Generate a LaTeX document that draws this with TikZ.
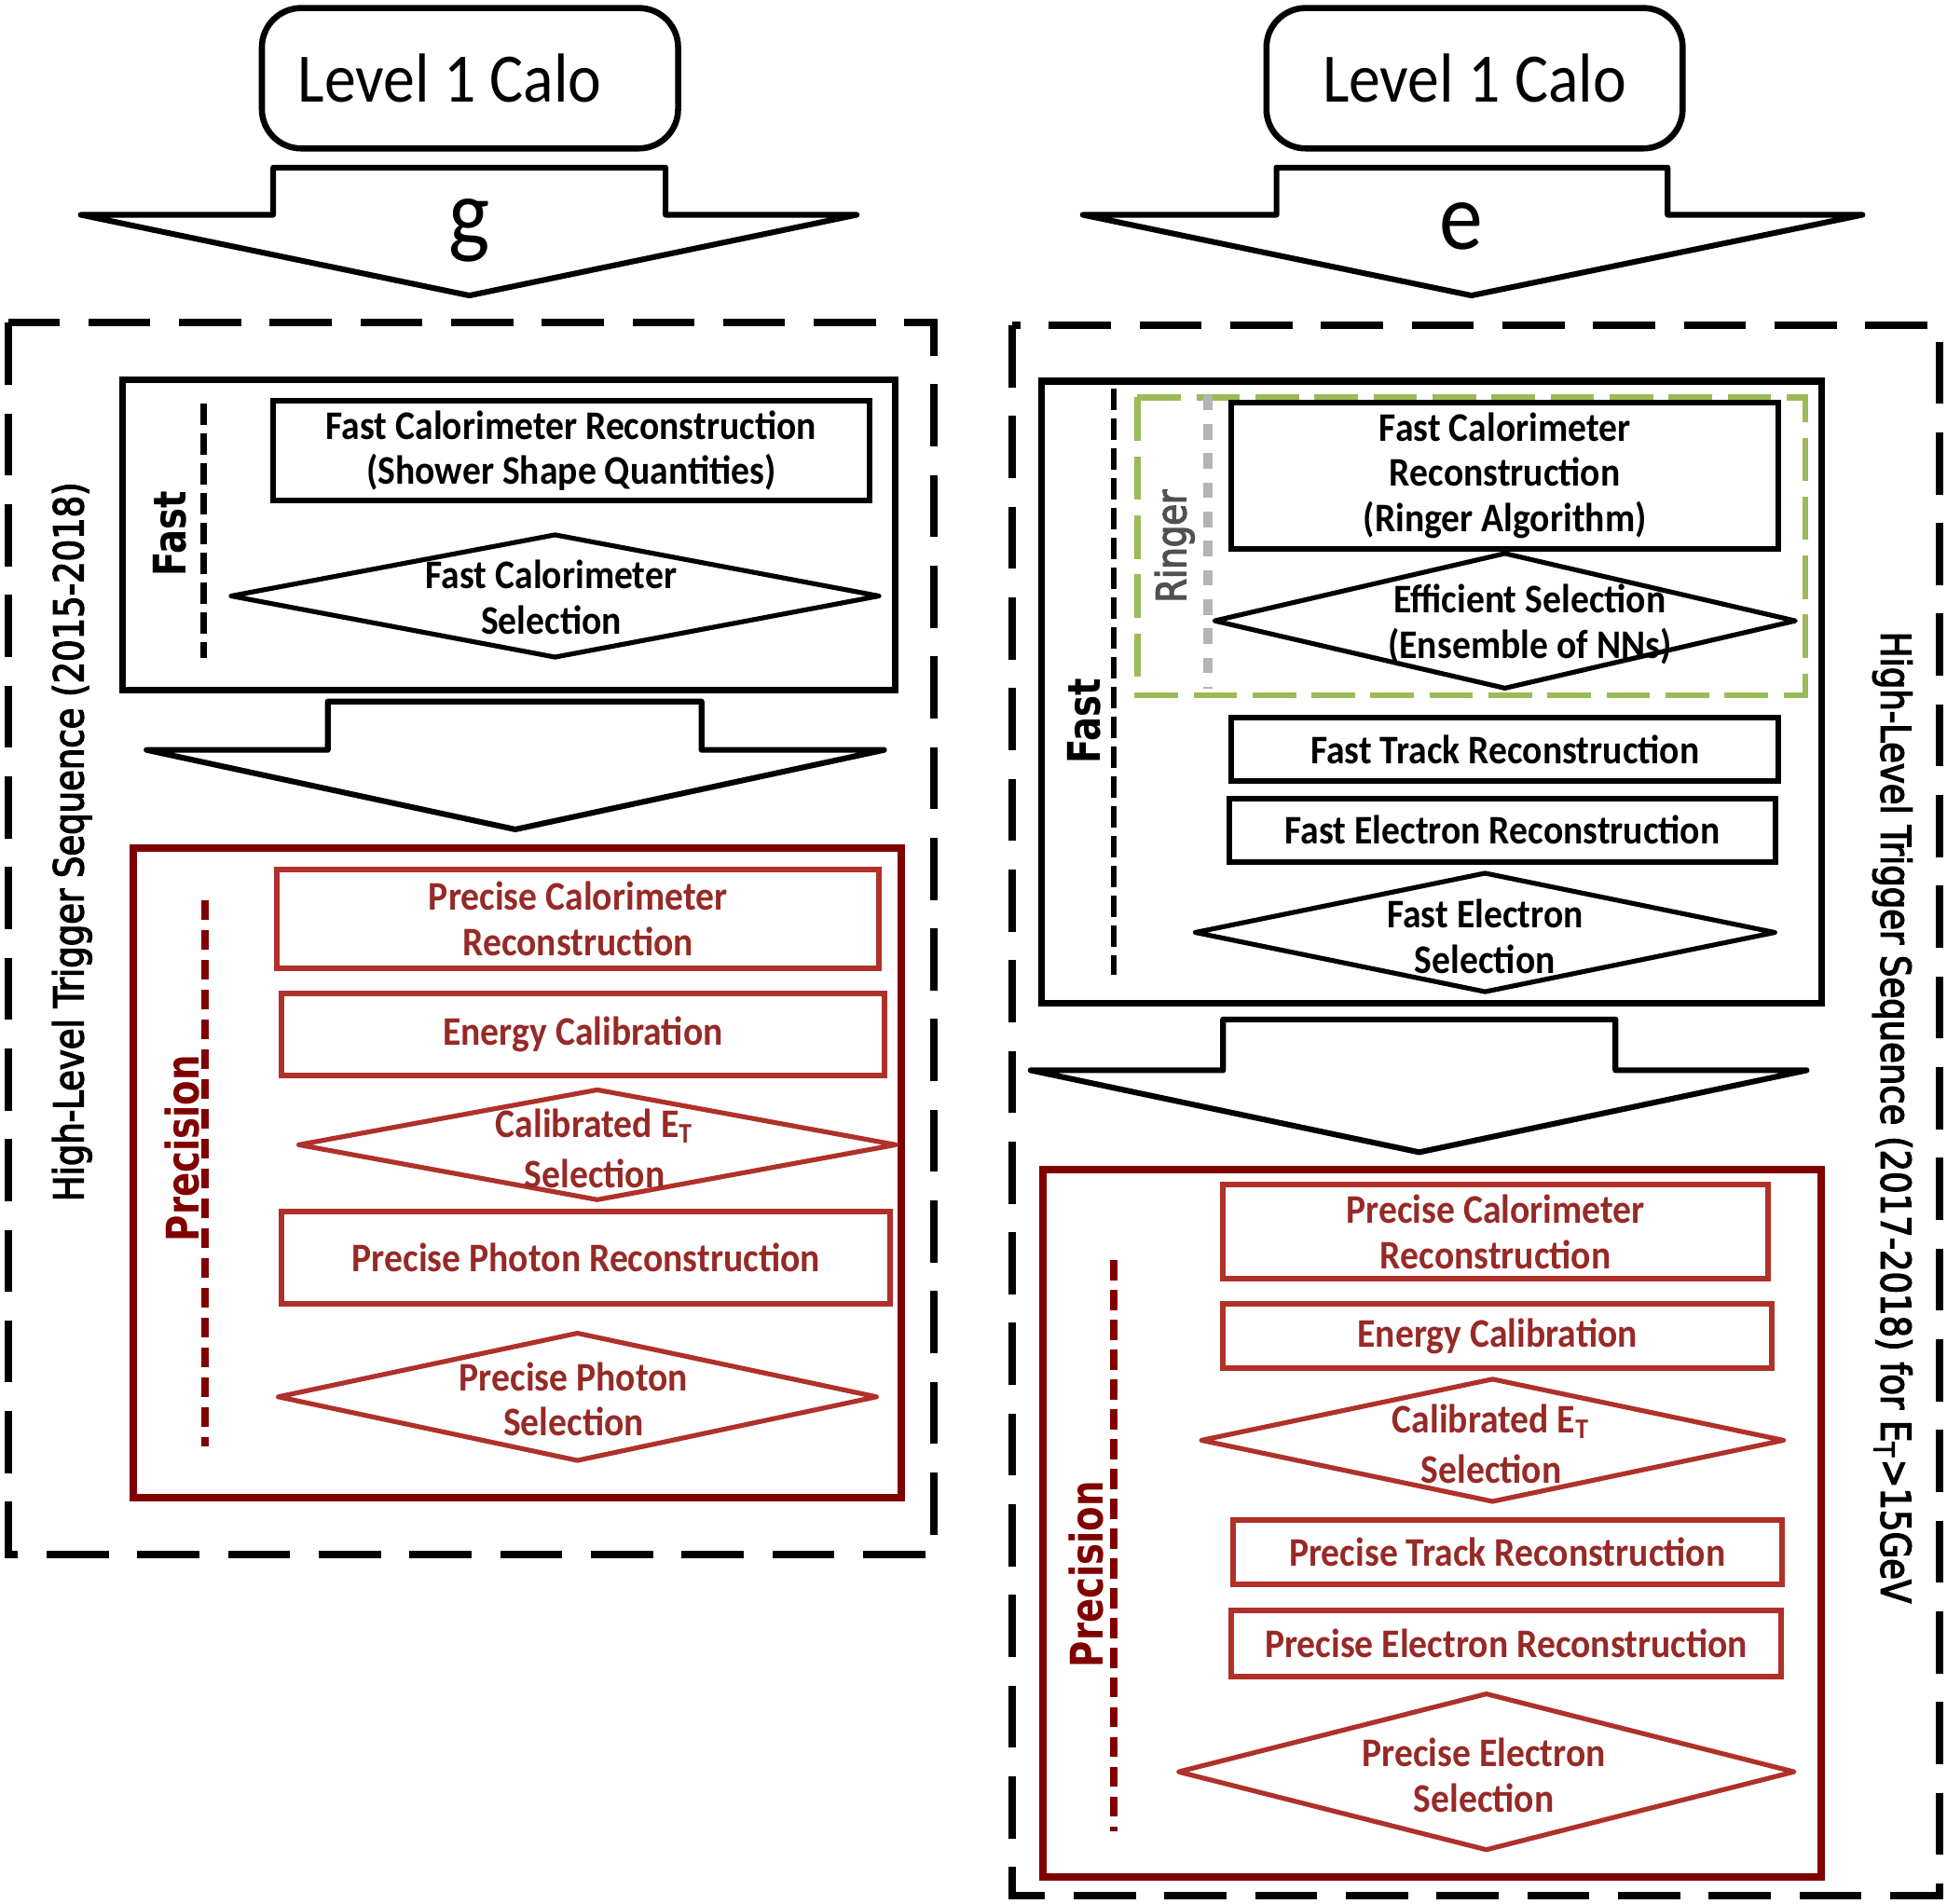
\documentclass[tikz,border=0pt]{standalone}
\usepackage{fontspec}
\setmainfont[FakeStretch=0.91]{Carlito}
\newfontfamily\sidefont[FakeStretch=0.84, FakeBold=3]{DejaVu Sans}
\newfontfamily\tagfont[FakeStretch=0.8]{DejaVu Sans}
\usetikzlibrary{shapes.geometric}
\definecolor{maroon}{RGB}{128,0,0}
\definecolor{brick}{RGB}{176,48,42}
\definecolor{bricktext}{RGB}{150,42,38}
\definecolor{ringgreen}{RGB}{155,187,89}
\definecolor{ringgray}{RGB}{180,180,180}
\definecolor{ringtext}{RGB}{80,80,80}
\begin{document}
\begin{tikzpicture}[x=0.01cm, y=-0.01cm,
  calo/.style = {draw, line width=1.4pt, rounded corners=9pt, minimum width=3.35cm, minimum height=1.13cm, inner sep=0pt, font=\fontsize{15.9}{19}\selectfont},
  rec/.style = {draw, line width=1.3pt, inner sep=0pt, align=center, font=\fontsize{9.3}{10.4}\selectfont\bfseries},
  redrec/.style = {rec, draw=brick, text=bricktext},
  dec/.style = {diamond, draw, line width=1.1pt, line join=round, inner sep=0pt},
  reddec/.style = {dec, draw=brick},
  dectext/.style = {align=center, inner sep=0pt, font=\fontsize{9.3}{10.4}\selectfont\bfseries},
  reddectext/.style = {dectext, text=bricktext},
  blk/.style = {draw, line width=1.3pt, line join=round},
  letter/.style = {inner sep=0pt, font=\fontsize{22}{26}\selectfont},
  seqbox/.style = {line width=1.7pt, dash pattern=on 0.5cm off 0.23cm},
  fastbox/.style = {line width=1.5pt},
  precbox/.style = {draw=maroon, line width=1.7pt},
  fastdash/.style = {line width=1.4pt, dash pattern=on 0.17cm off 0.07cm},
  precdash/.style = {maroon, line width=1.8pt, dash pattern=on 0.16cm off 0.08cm},
  sidelab/.style = {inner sep=0pt, font=\sidefont\fontsize{9.4}{11}\selectfont},
  taglab/.style = {inner sep=0pt, font=\tagfont\bfseries\fontsize{10.3}{12}\selectfont}]
\useasboundingbox (0,0) rectangle (1568,1533);

% photon chain (left)
\node[calo] (lcalo) at (378.5,63) {\makebox[2.77cm][l]{Level 1 Calo}};
\draw[blk] (220,173) -- (220,135) -- (536,135) -- (536,173) -- (690,173) -- (378,238) -- (65,173) -- cycle;
\node[letter] (g) at (378,186) {g};
\draw[seqbox] (7,260) rectangle (752,1252);
\node[sidelab, rotate=90] (lseq) at (58,678) {High-Level Trigger Sequence (2015-2018)};

\draw[fastbox] (99,306) rectangle (721,556);
\node[taglab, rotate=90] (lfast) at (137,430) {Fast};
\draw[fastdash] (164,325) -- (164,530);
\node[rec, minimum width=4.8cm, minimum height=0.8cm] (lfcr) at (460,363) {Fast Calorimeter Reconstruction\\(Shower Shape Quantities)};
\node[dec, minimum width=5.23cm, minimum height=1cm] (lfcs) at (447,480) {};
\node[dectext] (lfcst) at (444,481) {Fast Calorimeter\\Selection};

\draw[blk] (264,604) -- (264,565) -- (565,565) -- (565,604) -- (712,604) -- (415,668) -- (118,604) -- cycle;

\draw[precbox] (107,683) rectangle (726,1206);
\node[taglab, rotate=90, text=maroon] (lprec) at (147,925) {Precision};
\draw[precdash] (165,725) -- (165,1165);
\node[redrec, minimum width=4.85cm, minimum height=0.8cm] (lpcr) at (465.5,740) {Precise Calorimeter\\Reconstruction};
\node[redrec, minimum width=4.85cm, minimum height=0.66cm] (lec) at (469.5,833) {Energy Calibration};
\node[reddec, minimum width=4.82cm, minimum height=0.9cm] (lce) at (481,922) {};
\node[reddectext] (lcet) at (479,925) {Calibrated E\textsubscript{T}\\[1pt]Selection};
\node[redrec, minimum width=4.9cm, minimum height=0.74cm] (lppr) at (472,1013) {Precise Photon Reconstruction};
\node[reddec, minimum width=4.83cm, minimum height=1.04cm] (lpps) at (465,1125) {};
\node[reddectext] (lppst) at (462,1127) {Precise Photon\\Selection};

% electron chain (right)
\node[calo] (rcalo) at (1187.5,63) {Level 1 Calo};
\draw[blk] (1028,173) -- (1028,135) -- (1343,135) -- (1343,173) -- (1500,173) -- (1185,238) -- (872,173) -- cycle;
\node[letter] (e) at (1177,182) {e};
\draw[seqbox] (815,262) rectangle (1562,1527);
\node[sidelab, rotate=-90] (rseq) at (1524,900) {High-Level Trigger Sequence (2017-2018) for E\textsubscript{T}>15GeV};

\draw[fastbox] (839,307) rectangle (1467,808);
\node[taglab, rotate=90] (rfast) at (873,581) {Fast};
\draw[fastdash] (897,313) -- (897,785);
\draw[ringgreen, line width=1.4pt, dash pattern=on 0.35cm off 0.125cm] (916,320) rectangle (1454,560);
\draw[ringgray, line width=2.2pt, dash pattern=on 0.125cm off 0.11cm] (973,318) -- (973,555);
\node[sidelab, rotate=90, text=ringtext] (ringer) at (946,440) {Ringer};
\node[rec, minimum width=4.4cm, minimum height=1.18cm] (rfcr) at (1212,383) {Fast Calorimeter\\Reconstruction\\(Ringer Algorithm)};
\node[dec, minimum width=4.69cm, minimum height=1.1cm] (reff) at (1212,500) {};
\node[dectext] (refft) at (1232,503) {Efficient Selection\\(Ensemble of NNs)};
\node[rec, minimum width=4.4cm, minimum height=0.51cm] (rftr) at (1212,603.5) {Fast Track Reconstruction};
\node[rec, minimum width=4.4cm, minimum height=0.51cm] (rfer) at (1210,668.5) {Fast Electron Reconstruction};
\node[dec, minimum width=4.68cm, minimum height=0.97cm] (rfes) at (1196,751) {};
\node[dectext] (rfest) at (1196,754) {Fast Electron\\Selection};

\draw[blk] (985,862) -- (985,821) -- (1301,821) -- (1301,862) -- (1455,862) -- (1143,928) -- (830,862) -- cycle;

\draw[precbox] (840,942) rectangle (1467,1512);
\node[taglab, rotate=90, text=maroon] (rprec) at (875,1268) {Precision};
\draw[precdash] (897,1015) -- (897,1475);
\node[redrec, minimum width=4.39cm, minimum height=0.76cm] (rpcr) at (1204.5,992) {Precise Calorimeter\\Reconstruction};
\node[redrec, minimum width=4.42cm, minimum height=0.52cm] (rec) at (1206,1076) {Energy Calibration};
\node[reddec, minimum width=4.7cm, minimum height=1cm] (rce) at (1202,1160) {};
\node[reddectext] (rcet) at (1201,1163) {Calibrated E\textsubscript{T}\\[1pt]Selection};
\node[redrec, minimum width=4.42cm, minimum height=0.52cm] (rptr) at (1214,1250) {Precise Track Reconstruction};
\node[redrec, minimum width=4.42cm, minimum height=0.53cm] (rper) at (1213,1323.5) {Precise Electron Reconstruction};
\node[reddec, minimum width=4.97cm, minimum height=1.27cm] (rpes) at (1197,1427) {};
\node[reddectext] (rpest) at (1195,1430) {Precise Electron\\Selection};
\end{tikzpicture}
\end{document}
